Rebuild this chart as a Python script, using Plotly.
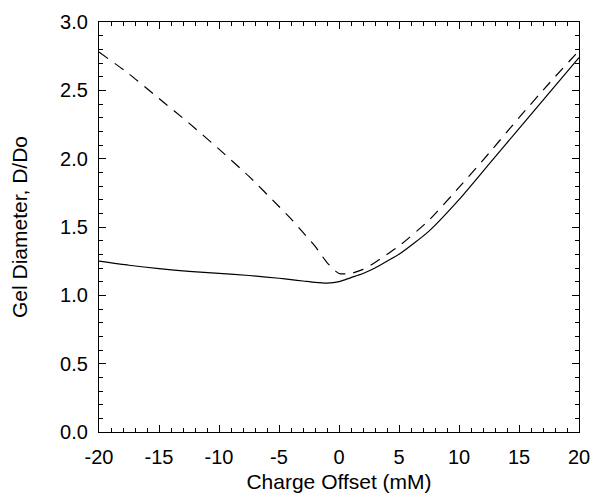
import plotly.graph_objects as go

x_vals = [-20, -17.5, -15, -12.5, -10, -7.5, -5, -4, -3, -2, -1, 0, 1, 2, 3, 4, 5, 7.5, 10, 12.5, 15, 17.5, 20]
solid_vals = [1.25, 1.22, 1.195, 1.175, 1.16, 1.145, 1.125, 1.115, 1.105, 1.095, 1.09, 1.10, 1.13, 1.16, 1.20, 1.25, 1.30, 1.47, 1.70, 1.96, 2.22, 2.48, 2.74]
dashed_vals = [2.78, 2.62, 2.44, 2.26, 2.07, 1.87, 1.65, 1.56, 1.46, 1.36, 1.24, 1.16, 1.16, 1.19, 1.24, 1.30, 1.36, 1.55, 1.79, 2.04, 2.30, 2.55, 2.79]

x_ticks = [-20, -15, -10, -5, 0, 5, 10, 15, 20]
x_ticklabels = ["-20", "-15", "-10", "-5", "0", "5", "10", "15", "20"]
y_ticks = [0.0, 0.5, 1.0, 1.5, 2.0, 2.5, 3.0]
y_ticklabels = ["0.0", "0.5", "1.0", "1.5", "2.0", "2.5", "3.0"]

fig = go.Figure()
fig.add_trace(go.Scatter(x=x_vals, y=solid_vals, mode="lines", line=dict(color="black", width=1.2, shape="spline", smoothing=0.6), showlegend=False))
fig.add_trace(go.Scatter(x=x_vals, y=dashed_vals, mode="lines", line=dict(color="black", width=1.2, dash="11px,8px", shape="spline", smoothing=0.6), showlegend=False))

fam = "Liberation Sans, Arial, Helvetica, sans-serif"
tick_font = dict(family=fam, size=20, color="black")
title_font = dict(family=fam, size=21, color="black")

axis_common = dict(
    showgrid=False, zeroline=False, showline=True, linecolor="black", linewidth=1.2,
    mirror="allticks", ticks="inside", ticklen=7, tickwidth=1, tickcolor="black",
    tickfont=tick_font,
)
fig.update_xaxes(range=[-20, 20], tickmode="array", tickvals=x_ticks, ticktext=x_ticklabels,
                 minor=dict(dtick=1, ticks="inside", ticklen=4, tickcolor="black", showgrid=False),
                 ticklabelstandoff=7,
                 title=dict(text="Charge Offset (mM)", font=title_font, standoff=7),
                 **axis_common)
fig.update_yaxes(range=[0, 3], tickmode="array", tickvals=y_ticks, ticktext=y_ticklabels,
                 minor=dict(dtick=0.1, ticks="inside", ticklen=4, tickcolor="black", showgrid=False),
                 ticklabelstandoff=6,
                 title=dict(text="Gel Diameter, D/Do", font=title_font, standoff=26),
                 **axis_common)

fig.update_layout(width=600, height=500, paper_bgcolor="white", plot_bgcolor="white",
                  margin=dict(l=91, r=29, t=14, b=76, autoexpand=False), font=tick_font)

fig.write_html("out.html")
